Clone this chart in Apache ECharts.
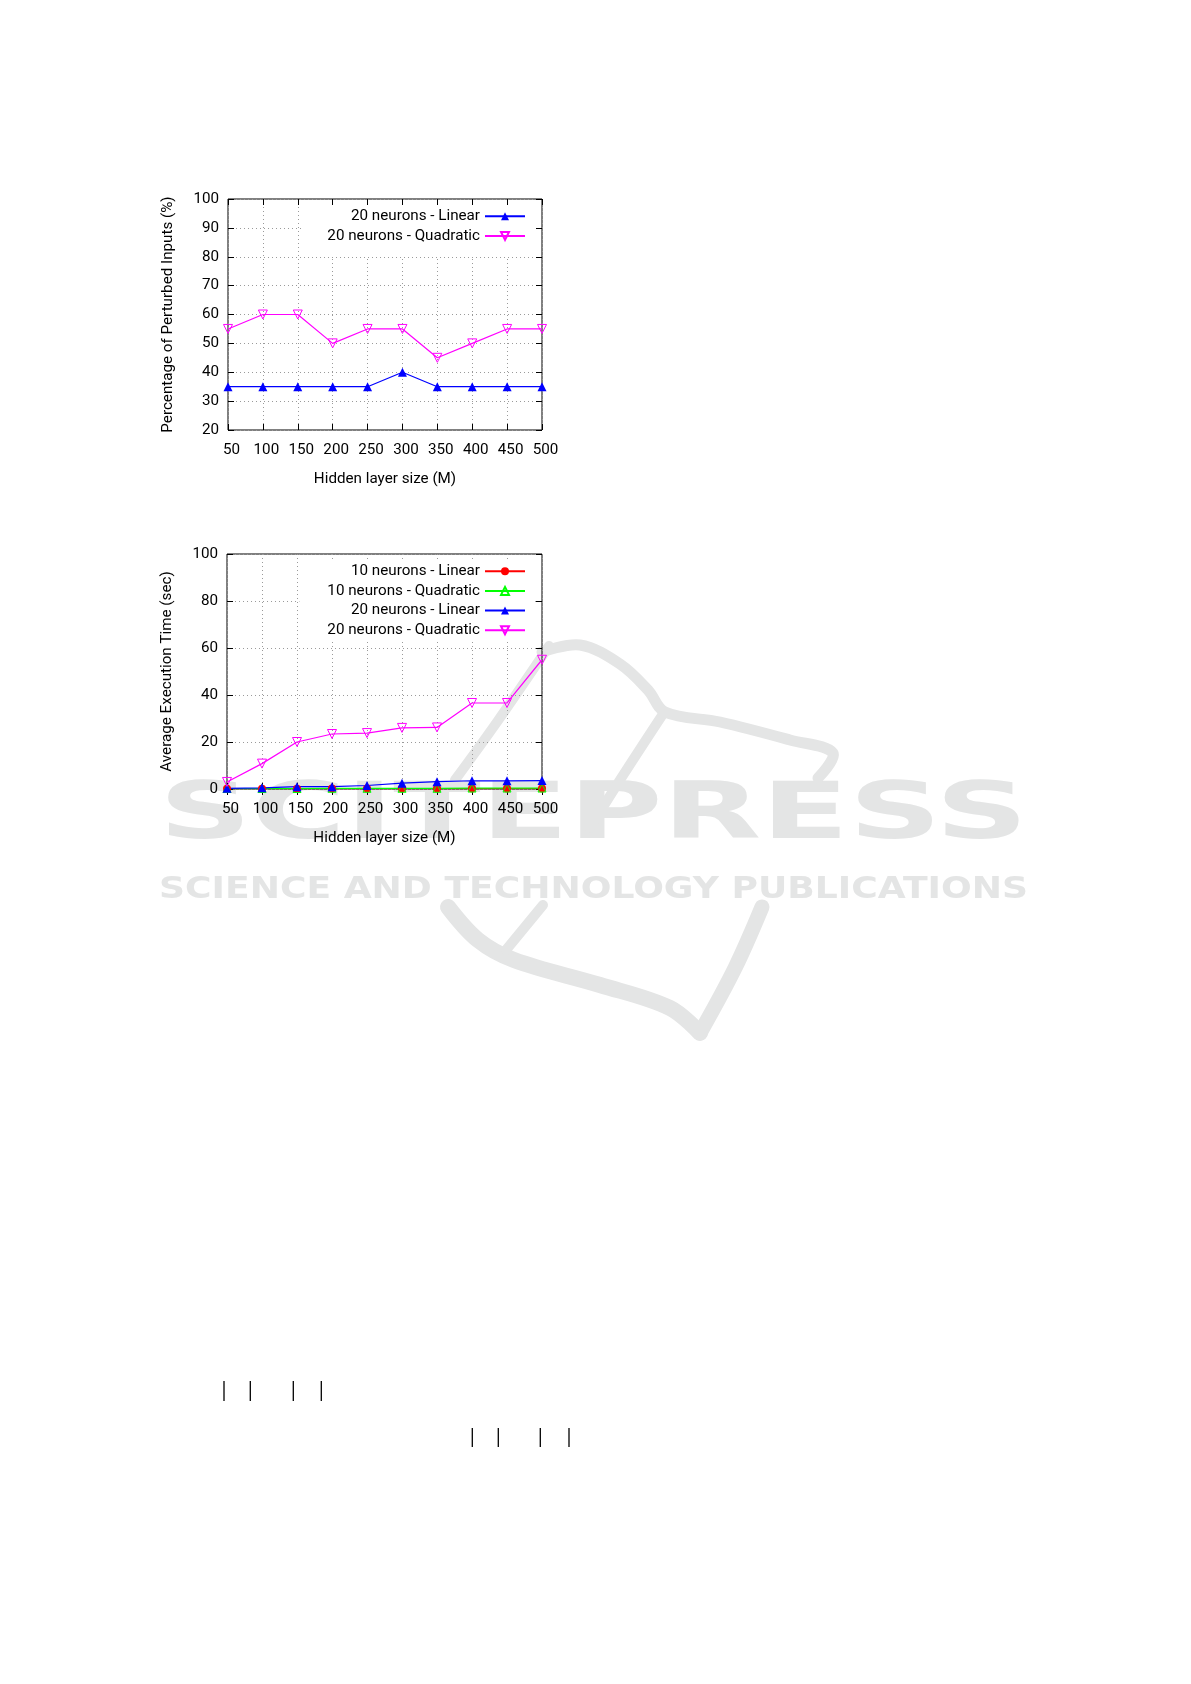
<!DOCTYPE html>
<html><head><meta charset="utf-8">
<script src="https://cdn.jsdelivr.net/npm/echarts@6/dist/echarts.min.js"></script>
<style>html,body{margin:0;padding:0;background:#fff}#c{width:1191px;height:1684px}</style>
</head><body><div id="c"></div>
<script>
// ---- data ----
const hiddenSizes = [50, 100, 150, 200, 250, 300, 350, 400, 450, 500];
const xAxisTicks = { min: 50, max: 500, interval: 50 };
const pctAxisTicks = { min: 20, max: 100, interval: 10 };
const timeAxisTicks = { min: 0, max: 100, interval: 20 };

const pctLinear20 = [35, 35, 35, 35, 35, 40, 35, 35, 35, 35];
const pctQuad20   = [55, 60, 60, 50, 55, 55, 45, 50, 55, 55];

const timeLinear10 = [0.1, 0.1, 0.1, 0.2, 0.2, 0.2, 0.2, 0.2, 0.2, 0.2];
const timeQuad10   = [0.2, 0.2, 0.2, 0.3, 0.3, 0.3, 0.3, 0.4, 0.4, 0.4];
const timeLinear20 = [0.3, 0.5, 1.0, 1.0, 1.5, 2.5, 3.1, 3.5, 3.5, 3.6];
const timeQuad20   = [3.0, 10.8, 20.0, 23.4, 23.8, 26.0, 26.2, 36.6, 36.6, 55.0];

const names = {
  l10: '10 neurons - Linear', q10: '10 neurons - Quadratic',
  l20: '20 neurons - Linear', q20: '20 neurons - Quadratic'
};
const pctTitle = 'Percentage of Perturbed Inputs (%)';
const timeTitle = 'Average Execution Time (sec)';
const xTitle = 'Hidden layer size (M)';

// ---- font (size chosen so the axis title is as wide as in the reference) ----
const mctx = document.createElement('canvas').getContext('2d');
const FONT = 'Roboto';
mctx.font = '100px "' + FONT + '"';
const FS = Math.round(100 * 142 / mctx.measureText(xTitle).width * 10) / 10;

const C = { red: '#ff0000', green: '#00ff00', blue: '#0000ff', mag: '#ff00ff' };

function pairs(arr) { return hiddenSizes.map((x, i) => [x, arr[i]]); }

function lineSeries(name, arr, gi, color, kind) {
  const s = {
    type: 'line', name, data: pairs(arr), xAxisIndex: gi * 2, yAxisIndex: gi * 2,
    lineStyle: { color, width: 1.2 }, symbolSize: 9, animation: false, z: 3
  };
  if (kind === 'tri') { s.symbol = 'triangle'; s.itemStyle = { color }; }
  if (kind === 'invtri') {
    s.symbol = 'triangle'; s.symbolRotate = 180;
    s.itemStyle = { color: 'rgba(255,255,255,0)', borderColor: color, borderWidth: 1 };
  }
  if (kind === 'htri') {
    s.symbol = 'triangle'; s.symbolSize = 8;
    s.itemStyle = { color: 'rgba(255,255,255,0)', borderColor: color, borderWidth: 1 };
  }
  if (kind === 'circle') { s.symbol = 'circle'; s.symbolSize = 8; s.itemStyle = { color }; }
  return s;
}

const txt = { fontFamily: FONT, fontSize: FS, color: '#000' };

function xAxes(gi) {
  const base = Object.assign({ type: 'value', gridIndex: gi }, xAxisTicks);
  return [
    Object.assign({}, base, {
      position: 'bottom', name: xTitle, nameLocation: 'middle', nameGap: 42,
      nameTextStyle: txt,
      axisLine: { show: false },
      axisTick: { inside: true, length: 6, lineStyle: { color: '#000' } },
      axisLabel: Object.assign({ margin: 13, padding: [0, 0, 0, 7] }, txt),
      splitLine: { show: true, lineStyle: { color: '#9a9a9a', type: [1, 3], width: 1 } }
    }),
    Object.assign({}, base, {
      position: 'top', axisLine: { show: false },
      axisTick: { inside: true, length: 6, lineStyle: { color: '#000' } },
      axisLabel: { show: false }, splitLine: { show: false }
    })
  ];
}
function yAxes(gi, ticks, title) {
  const base = Object.assign({ type: 'value', gridIndex: gi }, ticks);
  return [
    Object.assign({}, base, {
      position: 'left', name: title, nameLocation: 'middle', nameGap: 52,
      nameTextStyle: txt,
      axisLine: { show: false },
      axisTick: { inside: true, length: 6, lineStyle: { color: '#000' } },
      axisLabel: Object.assign({ margin: 9 }, txt),
      splitLine: { show: true, lineStyle: { color: '#9a9a9a', type: [1, 3], width: 1 } }
    }),
    Object.assign({}, base, {
      position: 'right', axisLine: { show: false },
      axisTick: { inside: true, length: 6, lineStyle: { color: '#000' } },
      axisLabel: { show: false }, splitLine: { show: false }
    })
  ];
}

function legend(top, padding, data) {
  return {
    top, right: 656, orient: 'vertical', align: 'right', padding,
    itemWidth: 40, itemHeight: 10, itemGap: 4.7, backgroundColor: '#fff',
    selectedMode: false, data,
    textStyle: Object.assign({ lineHeight: 14 }, txt)
  };
}

// ---- watermark helpers ----
const WM = '#e4e5e5';
function stretchedText(text, font, left, width, cy) {
  mctx.font = font;
  const w = mctx.measureText(text).width;
  return {
    type: 'text', x: left, y: cy, scaleX: width / w, z: -10, silent: true,
    style: { text, font, fill: WM, textAlign: 'left', textVerticalAlign: 'middle' }
  };
}
function stroke(points, width) {
  return { type: 'polyline', z: -10, silent: true, shape: { points, smooth: 0.35 },
    style: { stroke: WM, lineWidth: width, fill: null, lineCap: 'round', lineJoin: 'round' } };
}
function bar(x, y1, y2) {
  return { type: 'line', shape: { x1: x, y1, x2: x, y2 }, style: { stroke: '#000', lineWidth: 1.3 }, silent: true };
}

const option = {
  animation: false,
  grid: [
    { left: 228, top: 199, width: 314, height: 231, show: true, borderColor: '#000', borderWidth: 1, backgroundColor: 'transparent' },
    { left: 227, top: 554, width: 315, height: 235, show: true, borderColor: '#000', borderWidth: 1, backgroundColor: 'transparent' }
  ],
  xAxis: [...xAxes(0), ...xAxes(1)],
  yAxis: [...yAxes(0, pctAxisTicks, pctTitle), ...yAxes(1, timeAxisTicks, timeTitle)],
  legend: [
    legend(206, [2.7, 9, 12.6, 26], [names.l20, names.q20]),
    legend(561, [2.7, 9, 2.2, 28], [names.l10, names.q10, names.l20, names.q20])
  ],
  series: [
    lineSeries(names.l20, pctLinear20, 0, C.blue, 'tri'),
    lineSeries(names.q20, pctQuad20, 0, C.mag, 'invtri'),
    lineSeries(names.l10, timeLinear10, 1, C.red, 'circle'),
    lineSeries(names.q10, timeQuad10, 1, C.green, 'htri'),
    lineSeries(names.l20, timeLinear20, 1, C.blue, 'tri'),
    lineSeries(names.q20, timeQuad20, 1, C.mag, 'invtri')
  ],
  graphic: [
    stretchedText('SCITEPRESS', 'bold 78px "DejaVu Sans"', 159, 869, 818),
    stretchedText('SCIENCE AND TECHNOLOGY PUBLICATIONS', 'bold 30px "DejaVu Sans"', 159, 869, 890),
    stroke([[542, 652], [580, 645], [620, 664], [648, 690], [665, 712], [720, 722], [790, 740], [833, 753], [818, 778]], 11),
    stroke([[549, 646], [497, 722], [455, 780]], 10),
    stroke([[663, 714], [620, 780], [590, 828]], 10),
    stroke([[448, 907], [478, 940], [514, 960], [600, 985], [670, 1008], [700, 1033]], 16),
    stroke([[700, 1033], [735, 968], [762, 907]], 15),
    stroke([[543, 905], [506, 950]], 10),
    bar(224, 1381, 1401), bar(250.3, 1381, 1401), bar(293.3, 1381, 1401), bar(321.3, 1381, 1401),
    bar(472.3, 1428, 1447), bar(498.3, 1428, 1447), bar(540.3, 1428, 1447), bar(569, 1428, 1447)
  ]
};

const chart = echarts.init(document.getElementById('c'), null, { renderer: 'canvas' });
chart.setOption(option);
</script>
</body></html>
